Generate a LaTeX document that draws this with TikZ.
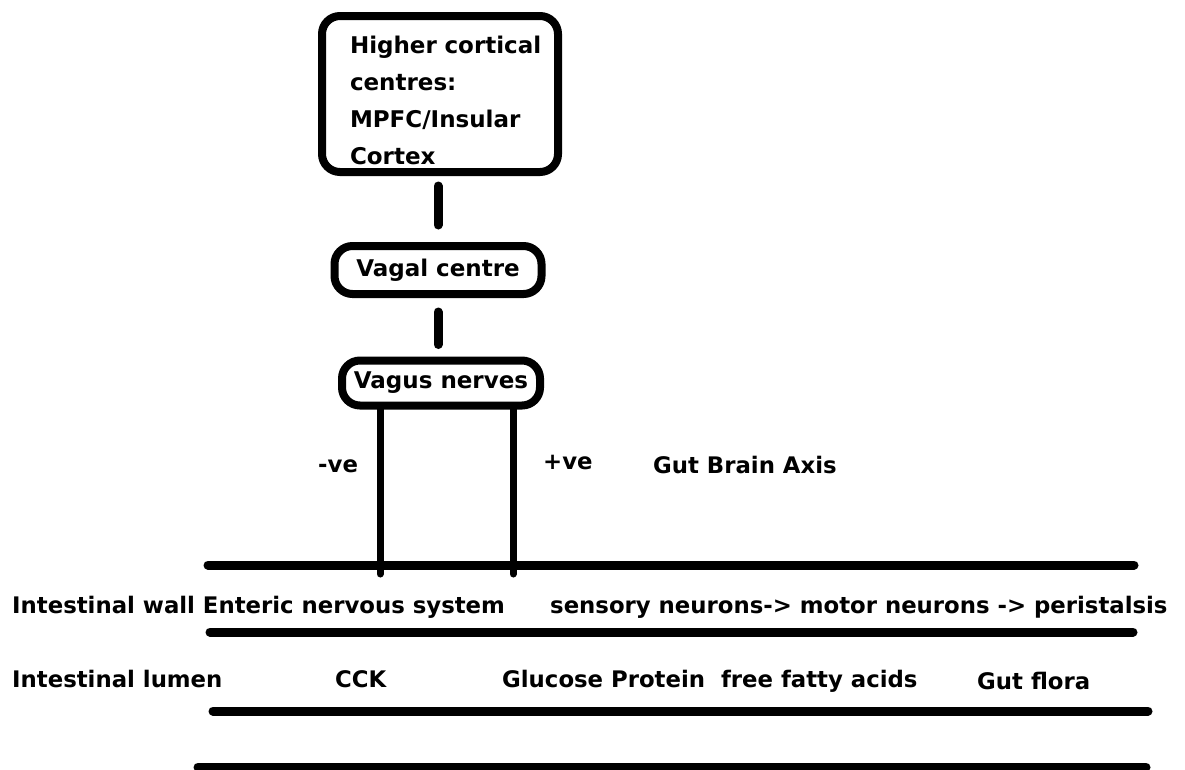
\documentclass[tikz,border=0pt]{standalone}
\usepackage{fontspec}
\setmainfont{DejaVu Sans}
\usepackage{tikz}

\begin{document}
\begin{tikzpicture}[x=1pt, y=-1pt,
        box/.style={draw, line width=8pt, rounded corners=18pt, inner sep=0pt,
            font=\fontsize{23}{37}\selectfont\bfseries},
        link/.style={line width=9pt, line cap=round},
        nerve/.style={line width=7pt, line cap=round},
        layer/.style={line width=9pt, line cap=round},
        lbl/.style={anchor=base west, inner sep=0pt,
            font=\fontsize{22.8}{27}\selectfont\bfseries}]
        \useasboundingbox (0, 0) rectangle (1185, 769);
        % brain side
        \node[box, minimum width=236pt, minimum height=156pt, text width=180pt,
            text height=31pt, align=left] (cortex) at (440, 94)
            {\mbox{Higher cortical}\\centres:\\MPFC/Insular\\Cortex};
        \node[box, minimum width=207pt, minimum height=48pt] (vagal) at (438, 270) {Vagal centre};
        \node[box, minimum width=198pt, minimum height=45pt] (vagus) at (441, 383) {Vagus nerves};
        \draw[link, shorten <=10pt, shorten >=17pt] (vagal.north |- cortex.south) -- (vagal.north);
        \draw[link, shorten <=14pt, shorten >=12pt] (vagal.south) -- (vagal.south |- vagus.north);
        % gut side
        \foreach \xa/\xb/\y in {208/1134/565, 210/1133/632, 213/1148/711, 198/1146/767} {
            \draw[layer] (\xa, \y) -- (\xb, \y);
        }
        \coordinate (neg) at (380, 574);
        \coordinate (pos) at (513, 574);
        \draw[nerve] (vagus.south -| neg) -- (neg);
        \draw[nerve] (vagus.south -| pos) -- (pos);
        \node[lbl] (negl) at (318, 472) {-ve};
        \node[lbl] (posl) at (543, 469) {+ve};
        \node[lbl] (axis) at (653, 473) {Gut Brain Axis};
        \node[lbl] (wall) at (12, 613) {Intestinal wall Enteric nervous system};
        \node[lbl] (reflex) at (550, 613) {sensory neurons-> motor neurons -> peristalsis};
        \node[lbl] (lumen) at (12, 687) {Intestinal lumen};
        \node[lbl] (cck) at (335, 687) {CCK};
        \node[lbl] (food) at (502, 687) {Glucose Protein\ \ free fatty acids};
        \node[lbl] (flora) at (977, 689) {Gut flora};
    \end{tikzpicture}
\end{document}
